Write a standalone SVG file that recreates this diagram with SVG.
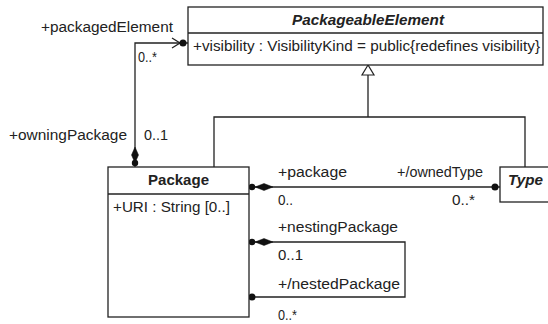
<svg xmlns="http://www.w3.org/2000/svg" width="548" height="324" viewBox="0 0 548 324">
<style>
text{font-family:"Liberation Sans",Arial,sans-serif;font-size:14px;fill:#222}
.b{font-weight:bold}
.bi{font-weight:bold;font-style:italic}
.box{fill:#fff;stroke:#222;stroke-width:1.3}
.ln{fill:none;stroke:#222;stroke-width:1.3}
.dot{fill:#111}
.dia{fill:#111;stroke:#111;stroke-width:0.5}
</style>
<rect width="548" height="324" fill="#fff"/>
<g id="connectors">
  <path class="ln" d="M368,75 V117 M214,167 V117 H525 V167"/>
  <polygon points="368,65 362,75 374,75" fill="#fff" stroke="#222" stroke-width="1.2"/>
  <path class="ln" d="M135,167 V43 H188"/>
  <path class="ln" d="M172,38 L180,43 L172,48"/>
  <circle class="dot" cx="183" cy="43" r="3.5"/>
  <polygon class="dia" points="135,147 138.5,155 135,163 131.5,155"/>
  <circle class="dot" cx="135" cy="163" r="3.2"/>
  <path class="ln" d="M249,187 H500"/>
  <circle class="dot" cx="252" cy="187" r="3.2"/>
  <polygon class="dia" points="255,187 264,183.5 273,187 264,190.5"/>
  <circle class="dot" cx="495" cy="187" r="3.5"/>
  <path class="ln" d="M249,242 H405 V297 H249"/>
  <circle class="dot" cx="252" cy="242" r="3.2"/>
  <polygon class="dia" points="255,242 264,238.5 273,242 264,245.5"/>
  <circle class="dot" cx="252" cy="297" r="3.5"/>
  <text x="41" y="32" textLength="132" lengthAdjust="spacingAndGlyphs">+packagedElement</text>
  <text x="138" y="62" textLength="19" lengthAdjust="spacingAndGlyphs">0..*</text>
  <text x="9" y="140" textLength="118" lengthAdjust="spacingAndGlyphs">+owningPackage</text>
  <text x="144" y="140" textLength="24" lengthAdjust="spacingAndGlyphs">0..1</text>
  <text x="278" y="177" textLength="69" lengthAdjust="spacingAndGlyphs">+package</text>
  <text x="397" y="177" textLength="86" lengthAdjust="spacingAndGlyphs">+/ownedType</text>
  <text x="278" y="205" textLength="15" lengthAdjust="spacingAndGlyphs">0..</text>
  <text x="452" y="205" textLength="23" lengthAdjust="spacingAndGlyphs">0..*</text>
  <text x="278" y="232" textLength="120" lengthAdjust="spacingAndGlyphs">+nestingPackage</text>
  <text x="278" y="260" textLength="25" lengthAdjust="spacingAndGlyphs">0..1</text>
  <text x="278" y="289" textLength="122" lengthAdjust="spacingAndGlyphs">+/nestedPackage</text>
  <text x="278" y="320" textLength="19" lengthAdjust="spacingAndGlyphs">0..*</text>
</g>
<g id="PackageableElement">
  <rect class="box" x="188" y="7" width="355" height="58"/>
  <line class="ln" x1="188" y1="33" x2="543" y2="33"/>
  <text class="bi" x="368" y="25" text-anchor="middle" textLength="152" lengthAdjust="spacingAndGlyphs">PackageableElement</text>
  <text x="193" y="51" textLength="347" lengthAdjust="spacingAndGlyphs">+visibility : VisibilityKind = public{redefines visibility}</text>
</g>
<g id="Package">
  <rect class="box" x="108" y="167" width="141" height="150"/>
  <line class="ln" x1="108" y1="194" x2="249" y2="194"/>
  <text class="b" x="178.5" y="185" text-anchor="middle" textLength="61" lengthAdjust="spacingAndGlyphs">Package</text>
  <text x="113" y="212" textLength="117" lengthAdjust="spacingAndGlyphs">+URI : String [0..]</text>
</g>
<g id="Type">
  <rect class="box" x="500" y="167" width="60" height="35"/>
  <text class="bi" x="508" y="185" textLength="35" lengthAdjust="spacingAndGlyphs">Type</text>
</g>
</svg>
